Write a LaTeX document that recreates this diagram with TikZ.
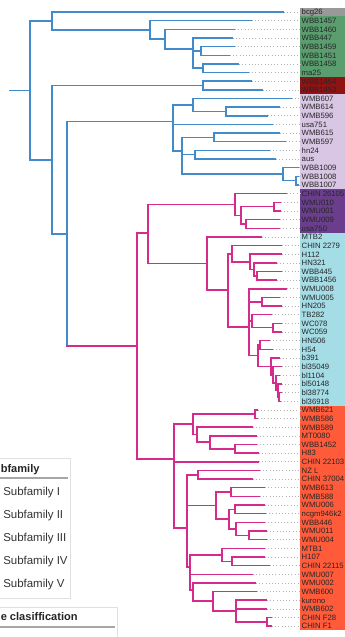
\documentclass[tikz,border=0pt]{standalone}
\usepackage{fontspec}
\setmainfont{Liberation Sans}

\definecolor{brblue}{HTML}{428BCA}
\definecolor{brpink}{HTML}{D62B8C}
\definecolor{sfgray}{HTML}{999999}
\definecolor{sfgreen}{HTML}{5A9E6F}
\definecolor{sfred}{HTML}{8E1414}
\definecolor{sflav}{HTML}{D9C6E4}
\definecolor{sfpurple}{HTML}{6A3E8C}
\definecolor{sfcyan}{HTML}{A5DDE7}
\definecolor{sforange}{HTML}{FF5B3A}

\begin{document}
\begin{tikzpicture}[x=0.75pt, y=-0.75pt,
  bluebr/.style={draw=brblue, line width=1.1pt},
  pinkbr/.style={draw=brpink, line width=1.1pt},
  leader/.style={draw=black!30, line width=0.5pt, dash pattern=on 0.6pt off 1.8pt},
  leaflab/.style={anchor=base west, inner xsep=1.1pt, inner ysep=0pt, font=\fontsize{5.8}{6}\selectfont, text=black!85},
  legbox/.style={draw=black!12, fill=white, line width=0.6pt},
  legrule/.style={draw=black!35, line width=1.2pt},
  leghead/.style={inner sep=0pt, font=\fontsize{8.3}{10}\selectfont\bfseries, text=black!85},
  legitem/.style={anchor=base west, inner sep=0pt, font=\fontsize{8.6}{10}\selectfont, text=black!80}]
\useasboundingbox (0,0) rectangle (345,637);
\clip (0,0) rectangle (345,637);

% colour bands behind the tip labels
\foreach \a/\b/\c in {1/1/sfgray, 2/8/sfgreen, 9/10/sfred, 11/21/sflav, 22/26/sfpurple, 27/46/sfcyan, 47/72/sforange}
  \fill[\c] (300,{12+(\a-1.5)*8.65}) rectangle (345,{12+(\b-0.5)*8.65});

% tips, dotted leaders and labels
\foreach \lab/\tip [count=\i] in {bcg26/284, WBB1457/252, WBB1460/235, WBB447/233, WBB1459/235, WBB1451/230,
    WBB1458/239, ma25/249, WBB1454/252, WBB1453/263, WMB607/292, WMB614/280, WMB596/268, usa751/273,
    WMB615/280, WMB597/286, hn24/270, aus/276, WBB1009/299, WBB1008/299, WBB1007/299,
    CHIN 26105/287, WMU010/281, WMU001/281, WMU009/280, usa750/280,
    MTB2/262, CHIN 2279/282, H112/282, HN321/277, WBB445/282, WBB1456/277, WMU008/287, WMU005/280,
    HN205/282, TB282/272, WC078/282, WC059/282, HN506/270, H54/273, b391/280, bl35049/282,
    bl1104/280, bl50148/282, bl38774/282, bl36918/281,
    WMB621/258, WMB586/258, WMB589/253, MT0080/257, WBB1452/257, H83/259, CHIN 22103/259, NZ L/260,
    CHIN 37004/253, WMB613/265, WMB588/260, WMU006/265, ncgm946k2/266, WBB446/265, WMU011/267,
    WMU004/267, MTB1/265, H107/265, CHIN 22115/270, WMU007/253, WMU002/256, WMB600/257,
    kurono/267, WMB602/267, CHIN F28/272, CHIN F1/272}{
  \coordinate (l\i) at (\tip,{12+(\i-1)*8.65});
  \node[leaflab] (t\i) at (300,{14.8+(\i-1)*8.65}) {\lab};
  \draw[leader] (l\i) -- (l\i -| t\i.west);
}

% internal nodes
\foreach \n/\x/\y in {stub/9/90.5, root/30/90.5, nA/52/21, nB/150/30, nC/165/39, nD/193/49, nE/201/50.9,
    nF/203/68.2, nG/52/160, nH/203/85.5, nI/67/233.8, nJ/173/121.7, nK/193/105, nK2/226/111.5,
    nL/182/151, nL1/214/137.4, nL2/195/154.7, nL3/283/174.2, nL4/296/180.7,
    nP/137/346, nM/148/233, nU/235/204.5, nV/241/215.3, nW/274/206.6, nX/246/223.9,
    nQ/207/263.5, nR/228/290, nS/232/253.8, nS2/250/262, nS3/254/269.3, nS4/257/275.8,
    nT/249/327, nT1/262/301.8, nT2/252/321.2, nT3/273/327.7, nT4/258/355.7, nT5/260/345,
    nT6/271/366.4, nT7/273/374.8, nT8/276/382.9, nT9/278/390.4, nT10/279/396.9,
    nZ/174/459, nY/193/424, nY1/255/414.2, nY2/197/434.6, nY3/210/442, nY4/235/448.8,
    nAB/187/528, nNZ/198/474.8, nAA/216/505.5, nAA1/231/492, nAA2/229/519, nAA3/235/509.4,
    nAA4/236/528.8, nAA5/249/535.3, nAC/190/567, nMT/222/554.8, nMT1/232/561.3,
    nAD/193/590, nAE/213/601, nAF/236/611, nAG/267/621.8}
  \coordinate (\n) at (\x,\y);

% blue part of the tree
\draw[bluebr] (stub) -- (root);
\foreach \p/\c in {root/nA, root/nG, nA/l1, nA/nB, nB/l2, nB/nC, nC/l3, nC/nD, nD/l4, nD/nE, nD/nF,
    nE/l5, nE/l6, nF/l7, nF/l8, nG/nH, nG/nI, nH/l9, nH/l10, nI/nJ, nJ/nK, nJ/l14, nJ/nL,
    nK/l11, nK/nK2, nK2/l12, nK2/l13, nL/nL1, nL/nL2, nL/nL3, nL1/l15, nL1/l16,
    nL2/l17, nL2/l18, nL3/l19, nL3/nL4, nL4/l20, nL4/l21}
  \draw[bluebr] (\p) |- (\c);
\draw[bluebr] (nI) -- (nI |- nP);
\draw[pinkbr, line cap=rect] (nI |- nP) -- (nP);

% pink part of the tree
\foreach \p/\c in {nP/nM, nP/nZ, nM/nU, nM/nQ, nU/l22, nU/nV, nV/nW, nV/nX, nW/l23, nW/l24,
    nX/l25, nX/l26, nQ/l27, nQ/nR, nR/nS, nR/nT, nS/l28, nS/nS2, nS2/l29, nS2/nS3, nS3/l30,
    nS3/nS4, nS4/l31, nS4/l32, nT/l33, nT/nT1, nT/nT2, nT/nT4, nT1/l34, nT1/l35, nT2/l36,
    nT2/nT3, nT3/l37, nT3/l38, nT4/nT5, nT4/nT6, nT5/l39, nT5/l40, nT6/l41, nT6/nT7,
    nT7/l42, nT7/nT8, nT8/l43, nT8/nT9, nT9/l44, nT9/nT10, nT10/l45, nT10/l46,
    nZ/nY, nZ/l53, nZ/nAB, nY/nY1, nY/nY2, nY1/l47, nY1/l48, nY2/l49, nY2/nY3, nY3/l50,
    nY3/nY4, nY4/l51, nY4/l52, nAB/nNZ, nAB/nAA, nAB/nAC, nNZ/l54, nNZ/l55, nAA/nAA1,
    nAA/nAA2, nAA1/l56, nAA1/l57, nAA2/nAA3, nAA2/nAA4, nAA3/l58, nAA3/l59, nAA4/l60,
    nAA4/nAA5, nAA5/l61, nAA5/l62, nAC/nMT, nAC/l66, nAC/nAD, nMT/l63, nMT/nMT1,
    nMT1/l64, nMT1/l65, nAD/l67, nAD/nAE, nAE/l68, nAE/nAF, nAF/l69, nAF/l70, nAF/nAG,
    nAG/l71, nAG/l72}
  \draw[pinkbr] (\p) |- (\c);

% legend tables
\draw[legbox] (-40,458) rectangle (70.7,598);
\node[leghead, anchor=base west] (sfhead) at (0.5,472.5) {bfamily};
\draw[legrule] (-40,478) -- (68,478);
\foreach \r [count=\k] in {I,II,III,IV,V}
  \node[legitem] (sf\k) at (3,{495.5+(\k-1)*23.1}) {Subfamily \r};
\draw[legbox] (-40,607) rectangle (117.3,660);
\node[leghead, anchor=base west] (clhead) at (0.5,620.7) {e clasiffication};
\draw[legrule] (-40,627) -- (115,627);
\end{tikzpicture}
\end{document}
